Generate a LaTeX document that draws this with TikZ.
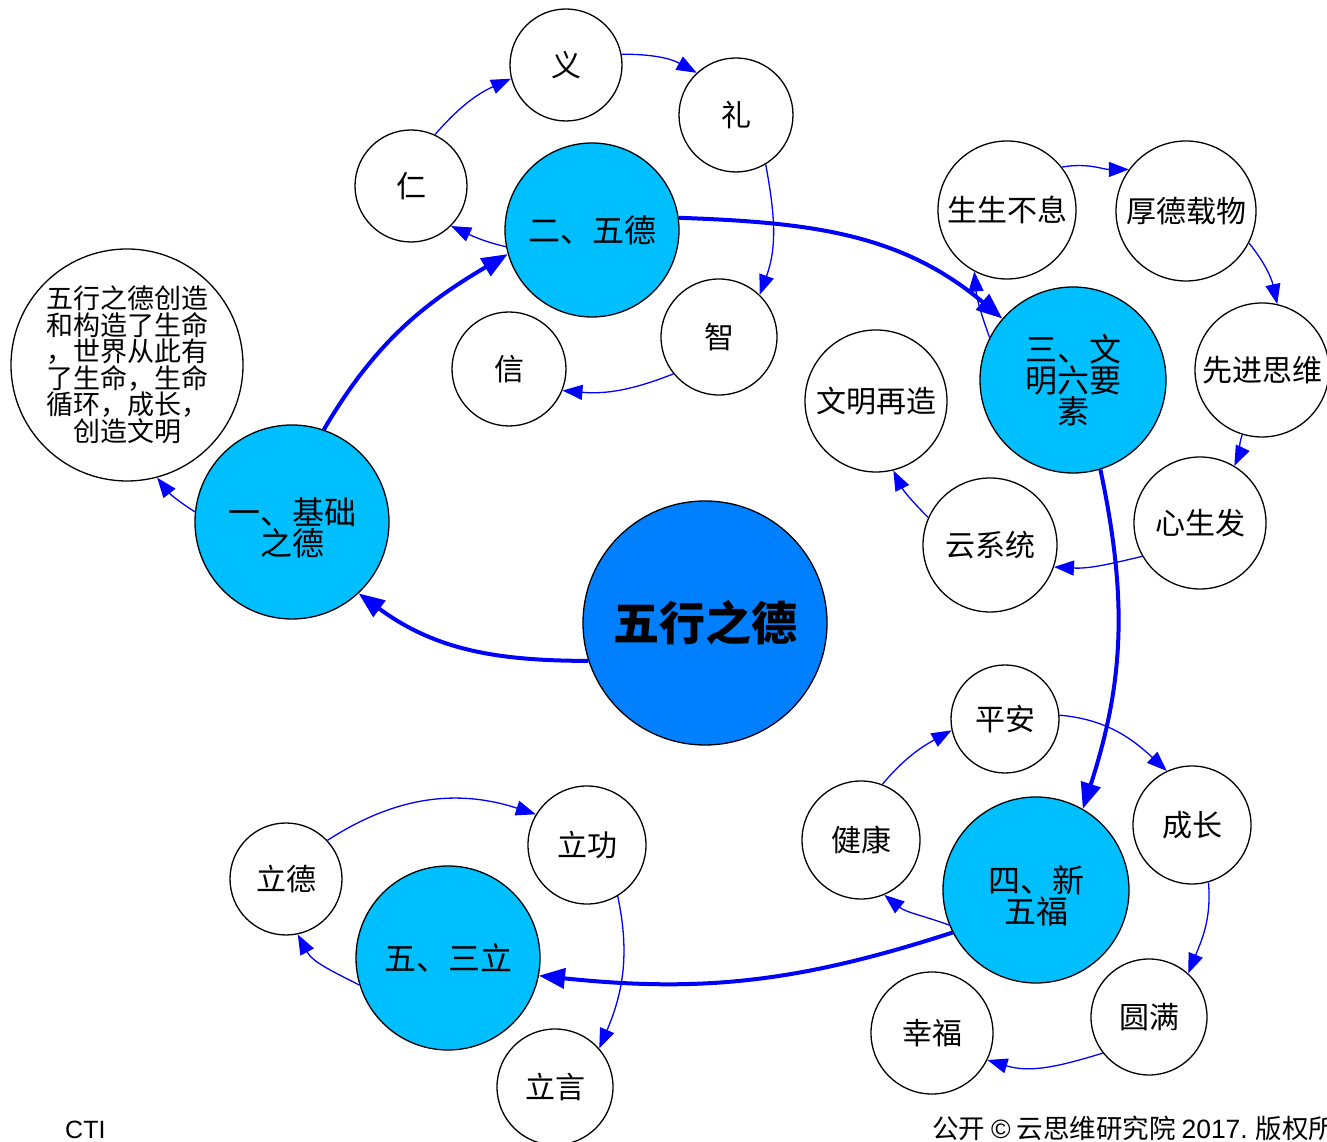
\documentclass[tikz,border=0pt]{standalone}
\usepackage{fontspec}
\setmainfont{Noto Sans CJK SC}
\newfontfamily\latinf{Liberation Sans}
\usetikzlibrary{arrows.meta}
\definecolor{mainblue}{RGB}{0,128,255}
\definecolor{subblue}{RGB}{0,191,255}
\definecolor{linkblue}{RGB}{0,0,255}
\newcommand\lowerby{\rule{0pt}{38pt}}
\tikzset{
  bubble/.style={circle,draw=black,line width=1.3pt,inner sep=0pt,align=center,fill=white,font=\fontsize{30}{31}\selectfont},
  hub/.style={bubble,fill=subblue,font=\fontsize{32}{31}\selectfont},
  core/.style={bubble,fill=mainblue,font=\fontsize{46}{48}\selectfont\bfseries},
  linkminor/.style={draw=linkblue,line width=1.3pt,-{Triangle[length=20pt,width=15pt]}},
  linkmajor/.style={draw=linkblue,line width=4pt,-{Triangle[length=26pt,width=20pt]}},
  foot/.style={anchor=base west,inner sep=0pt},
}
\begin{document}
\begin{tikzpicture}[x=1pt,y=1pt]
\useasboundingbox (0,0) rectangle (1327,1142);
\fill[white] (0,0) rectangle (1327,1142);

% hubs
\node[core,minimum size=244pt] (core) at (705,519) {五行之德};
\node[hub,minimum size=194pt] (h1) at (292,620) {\lowerby 一、基础\\之德};
\node[hub,minimum size=174pt] (h2) at (592,912) {二、五德};
\node[hub,minimum size=186pt] (h3) at (1073,762) {三、文\\明六要\\素};
\node[hub,minimum size=186pt] (h4) at (1036,252) {\lowerby 四、新\\五福};
\node[hub,minimum size=184pt] (h5) at (448,184) {五、三立};
\node[bubble,minimum size=232pt,font=\fontsize{27}{26.5}\selectfont] (note) at (127,777)
  {五行之德创造\\和构造了生命\\，世界从此有\\了生命，生命\\循环，成长，\\创造文明};

% group 2
\node[bubble,minimum size=112pt] (ren) at (411,956) {仁};
\node[bubble,minimum size=112pt] (yi) at (566,1077) {义};
\node[bubble,minimum size=114pt] (li) at (736,1027) {礼};
\node[bubble,minimum size=116pt] (zhi) at (719,805) {智};
\node[bubble,minimum size=114pt] (xin) at (509,773) {信};

% group 3
\node[bubble,minimum size=138pt] (ss) at (1007,932) {生生不息};
\node[bubble,minimum size=140pt] (hd) at (1186,931) {厚德载物};
\node[bubble,minimum size=134pt] (xj) at (1262,772) {先进思维};
\node[bubble,minimum size=132pt] (xs) at (1200,619) {心生发};
\node[bubble,minimum size=134pt] (yx) at (990,597) {云系统};
\node[bubble,minimum size=142pt] (wm) at (876,741) {文明再造};

% group 4
\node[bubble,minimum size=108pt] (pa) at (1005,423) {平安};
\node[bubble,minimum size=118pt] (cz) at (1192,317) {成长};
\node[bubble,minimum size=116pt] (ym) at (1149,125) {圆满};
\node[bubble,minimum size=122pt] (xf) at (932,109) {幸福};
\node[bubble,minimum size=118pt] (jk) at (861,302) {健康};

% group 5
\node[bubble,minimum size=112pt] (ld) at (286,263) {立德};
\node[bubble,minimum size=118pt] (lg) at (587,297) {立功};
\node[bubble,minimum size=116pt] (ly) at (555,55) {立言};

% major links
\draw[linkmajor] (core.198.9) to[out=180,in=-36.5] (h1.-47.8);
\draw[linkmajor] (h1.71.7) to[out=59.5,in=210.5] (h2.196);
\draw[linkmajor] (h2.8.6) to[out=-2,in=140] (h3.139.7);
\draw[linkmajor] (h3.-73) to[out=-78,in=72] (h4.60);
\draw[linkmajor] (h4.207.4) to[out=198,in=-6] (h5.-11.3);

% minor links
\draw[linkminor] (h2.191.7) to[out=167,in=-25] (ren.-45);
\draw[linkminor] (ren.65.6) to[out=49,in=204] (yi.194);
\draw[linkminor] (yi.11.5) to[out=0,in=151] (li.133.6);
\draw[linkminor] (li.-59) to[out=-79.5,in=70] (zhi.46);
\draw[linkminor] (zhi.219.6) to[out=201.5,in=-5] (xin.-22.5);
\draw[linkminor] (h1.174) to[out=148,in=-52] (note.-75);

\draw[linkminor] (h3.153) to[out=110,in=-85] (ss.242.4);
\draw[linkminor] (ss.38) to[out=10,in=180] (hd.144.6);
\draw[linkminor] (hd.-27.3) to[out=-51,in=102.5] (xj.77);
\draw[linkminor] (xj.-107.4) to[out=-110,in=65] (xs.59.7);
\draw[linkminor] (xs.210.8) to[out=193.6,in=-3] (yx.-19.7);
\draw[linkminor] (yx.156.5) to[out=135,in=-63.4] (wm.-76.5);

\draw[linkminor] (h4.202.8) to[out=160,in=-39] (jk.-67);
\draw[linkminor] (jk.69) to[out=50,in=209] (pa.192);
\draw[linkminor] (pa.4) to[out=-5,in=137] (cz.115.7);
\draw[linkminor] (cz.-74.6) to[out=-85,in=68] (ym.48.4);
\draw[linkminor] (ym.218) to[out=197,in=-17] (xf.-26.6);

\draw[linkminor] (h5.197) to[out=153,in=-62] (ld.-78);
\draw[linkminor] (ld.43.6) to[out=33,in=162] (lg.149);
\draw[linkminor] (lg.-59) to[out=-78,in=67] (ly.41);

% footer
\node[foot,font=\latinf\fontsize{25}{25}\selectfont] (cti) at (65,3) {CTI};
\node[foot,font=\fontsize{26.5}{26.5}\selectfont] (copy) at (932,3) {公开 {\latinf ©} 云思维研究院 {\latinf 2017.} 版权所};
\end{tikzpicture}
\end{document}
